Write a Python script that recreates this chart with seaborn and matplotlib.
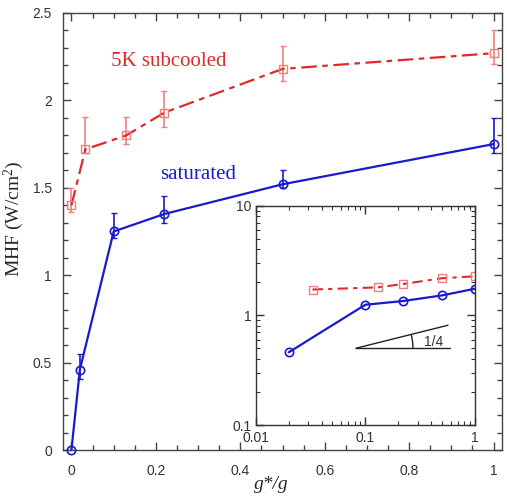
import numpy as np
import pandas as pd
import matplotlib
matplotlib.use("Agg")
import matplotlib.pyplot as plt
from matplotlib.patches import Arc
from matplotlib.ticker import MultipleLocator, LogLocator, NullFormatter, FixedLocator
import seaborn as sns

# ---- data ----
x_sat = [0.0, 0.02, 0.1, 0.22, 0.5, 1.0]
mhf_sat = [0.0, 0.46, 1.25, 1.35, 1.52, 1.75]
sat_err_lo = [0.0, 0.055, 0.04, 0.05, 0.02, 0.05]
sat_err_hi = [0.0, 0.09, 0.105, 0.105, 0.08, 0.15]

x_sub = [0.0, 0.033, 0.13, 0.22, 0.5, 1.0]
mhf_sub = [1.40, 1.72, 1.80, 1.93, 2.18, 2.27]
sub_err_lo = [0.04, 0.02, 0.05, 0.08, 0.07, 0.06]
sub_err_hi = [0.10, 0.185, 0.105, 0.125, 0.13, 0.13]

xticks_main = [0, 0.2, 0.4, 0.6, 0.8, 1]
yticks_main = [0, 0.5, 1, 1.5, 2, 2.5]
xticks_in = [0.01, 0.1, 1]
yticks_in = [0.1, 1, 10]
label_sub = "5K subcooled"
label_sat = "saturated"
slope_label = "1/4"

BLUE = "#1a1acc"
RED = "#e02a2a"
RED_L = "#f08080"

sns.set_theme(style="ticks")
plt.rcParams["font.family"] = ["Liberation Sans", "DejaVu Sans"]
plt.rcParams["mathtext.fontset"] = "custom"
plt.rcParams["mathtext.rm"] = "Liberation Serif"
plt.rcParams["mathtext.it"] = "Liberation Serif:italic"

df_sat = pd.DataFrame({"x": x_sat, "y": mhf_sat})
df_sub = pd.DataFrame({"x": x_sub, "y": mhf_sub})

fig = plt.figure(figsize=(5.07, 4.98), dpi=100)
ax = fig.add_axes([63/507, 48/498, 439/507, 437/498])

dash = (7, 2.5, 2.5, 2.5)

# main plot
ax.errorbar(x_sub, mhf_sub, yerr=[sub_err_lo, sub_err_hi], fmt="none",
            ecolor=RED_L, elinewidth=1.2, capsize=2.5, capthick=1.0, zorder=2)
sns.lineplot(data=df_sub, x="x", y="y", ax=ax, color=RED, lw=1.6,
             dashes=False, zorder=3, legend=False).lines[-1].set_dashes(dash)
ax.plot(x_sub, mhf_sub, ls="none", marker="s", ms=6, mfc="none",
        mec=RED_L, mew=1.0, zorder=4)

ax.errorbar(x_sat[1:], mhf_sat[1:], yerr=[sat_err_lo[1:], sat_err_hi[1:]], fmt="none",
            ecolor=BLUE, elinewidth=1.2, capsize=2.5, capthick=1.0, zorder=2)
sns.lineplot(data=df_sat, x="x", y="y", ax=ax, color=BLUE, lw=1.6,
             marker="o", ms=6, mfc="none", mec=BLUE, mew=1.2,
             zorder=5, legend=False)
for l in ax.lines:
    l.set_clip_on(False)

ax.set_xlim(-0.02, 1.02)
ax.set_ylim(0, 2.5)
ax.set_xticks(xticks_main)
ax.set_xticklabels([f"{v:g}" for v in xticks_main])
ax.set_yticks(yticks_main)
ax.set_yticklabels([f"{v:g}" for v in yticks_main])
ax.xaxis.set_minor_locator(MultipleLocator(0.05))
ax.yaxis.set_minor_locator(MultipleLocator(0.1))
ax.tick_params(which="both", direction="in", top=True, right=True, color="#444444")
ax.tick_params(which="major", length=6, width=1, labelsize=10, labelcolor="#333333")
ax.tick_params(axis="x", which="major", pad=10)
ax.tick_params(axis="y", which="major", pad=8)
ax.tick_params(which="minor", length=3.5, width=1)
for s in ax.spines.values():
    s.set_color("#444444")
    s.set_linewidth(1.0)

ax.set_xlabel("g*/g", family="Liberation Serif", style="italic", fontsize=14)
ax.xaxis.set_label_coords(0.474, -0.06)
ax.set_ylabel("MHF (W/cm$^2$)", family="Liberation Serif", fontsize=14)
ax.yaxis.set_label_coords(-0.085, 0.53)

ax.text(0.23, 2.22, label_sub, color=RED, family="Liberation Serif", fontsize=15,
        ha="center", va="center")
ax.text(0.30, 1.575, label_sat, color=BLUE, family="Liberation Serif", fontsize=15,
        ha="center", va="center")

# inset
axi = fig.add_axes([255.7/507, 73/498, 219.3/507, 219.3/498])
df_sat_in = df_sat[df_sat.x > 0]
df_sub_in = df_sub[df_sub.x > 0]
sns.lineplot(data=df_sub_in, x="x", y="y", ax=axi, color=RED, lw=1.5,
             dashes=False, legend=False).lines[-1].set_dashes((5, 2.5, 2, 2.5))
axi.plot(df_sub_in.x, df_sub_in.y, ls="none", marker="s", ms=6, mfc="none",
         mec=RED_L, mew=1.0)
sns.lineplot(data=df_sat_in, x="x", y="y", ax=axi, color=BLUE, lw=1.6,
             marker="o", ms=6, mfc="none", mec=BLUE, mew=1.2, legend=False)
axi.set_xscale("log")
axi.set_yscale("log")
axi.set_xlim(0.01, 1)
axi.set_ylim(0.1, 10)
axi.xaxis.set_major_locator(FixedLocator(xticks_in))
axi.yaxis.set_major_locator(FixedLocator(yticks_in))
axi.set_xticklabels([f"{v:g}" for v in xticks_in])
axi.set_yticklabels([f"{v:g}" for v in yticks_in])
axi.xaxis.set_minor_locator(LogLocator(base=10, subs=np.arange(2, 10)))
axi.yaxis.set_minor_locator(LogLocator(base=10, subs=np.arange(2, 10)))
axi.xaxis.set_minor_formatter(NullFormatter())
axi.yaxis.set_minor_formatter(NullFormatter())
axi.tick_params(which="both", direction="in", top=True, right=True, color="#333333")
axi.tick_params(which="major", length=6, width=1, labelsize=10, labelcolor="#333333", pad=3)
axi.tick_params(axis="x", which="major", pad=4)
axi.tick_params(which="minor", length=3, width=0.8)
axi.set_xlabel("")
axi.set_ylabel("")
for s in axi.spines.values():
    s.set_color("#333333")
    s.set_linewidth(1.0)

# slope triangle (1/4)
vx, vy = 0.457, 0.350
axi.plot([vx, 0.888], [vy, vy], color="#222222", lw=1.0, transform=axi.transAxes)
axi.plot([vx, 0.877], [vy, vy + 0.25 * (0.877 - vx)], color="#222222", lw=1.0,
         transform=axi.transAxes)
axi.add_patch(Arc((vx, vy), 0.52, 0.52, theta1=0, theta2=np.degrees(np.arctan(0.25)),
                  transform=axi.transAxes, color="#222222", lw=1.0))
axi.text(0.81, 0.378, slope_label, transform=axi.transAxes, fontsize=10,
         color="#333333", ha="center", va="center")

fig.savefig("out.png", dpi=100)
